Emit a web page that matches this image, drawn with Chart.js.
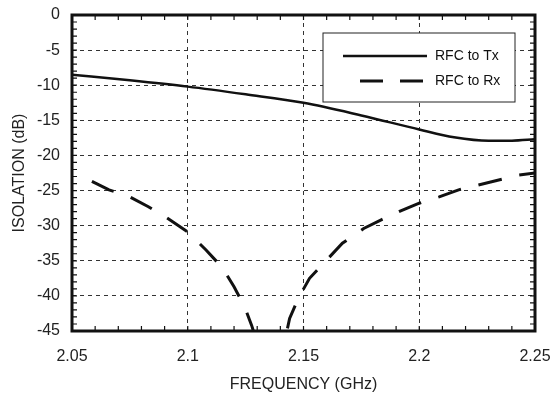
<!DOCTYPE html>
<html>
<head>
<meta charset="utf-8">
<script src="https://cdn.jsdelivr.net/npm/chart.js@4/dist/chart.umd.min.js"></script>
<style>
  html, body { margin: 0; padding: 0; background: #fff; }
  #wrap { width: 551px; height: 395px; }
</style>
</head>
<body>
<div id="wrap"><canvas id="isoChart"></canvas></div>
<script>
// ---- data ----
var txFreq = [2.05, 2.075, 2.1, 2.125, 2.15, 2.175, 2.2, 2.215, 2.23, 2.24, 2.25];
var txIso  = [-8.5, -9.3, -10.2, -11.3, -12.5, -14.3, -16.3, -17.4, -17.9, -17.9, -17.7];

var rxFreq = [2.0586, 2.066, 2.075, 2.083, 2.091, 2.1, 2.108, 2.115, 2.12, 2.1246, 2.1276, 2.135,
              2.1427, 2.144, 2.148, 2.1526, 2.16, 2.1668, 2.176, 2.184, 2.192, 2.2, 2.2086, 2.217, 2.243, 2.25];
var rxIso  = [-23.7, -24.9, -25.9, -27.3, -28.9, -30.9, -33.5, -36.0, -38.7, -41.6, -44.2, -52,
              -45.2, -43.2, -40.2, -37.5, -34.9, -32.5, -30.4, -29.1, -27.9, -26.8, -25.9, -24.9, -22.8, -22.5];

var xTicks = [2.05, 2.1, 2.15, 2.2, 2.25];
var yTicks = [0, -5, -10, -15, -20, -25, -30, -35, -40, -45];
var seriesNames = ['RFC to Tx', 'RFC to Rx'];

function pairs(xs, ys) {
    var out = [];
    for (var i = 0; i < xs.length; i++) out.push({x: xs[i], y: ys[i]});
    return out;
}

// frame, inward minor ticks and the boxed legend
var framePlugin = {
    id: 'frame',
    afterDraw: function (chart) {
        var ctx = chart.ctx, a = chart.chartArea, x = chart.scales.x, y = chart.scales.y;
        ctx.save();
        ctx.strokeStyle = '#111';
        ctx.lineWidth = 1.2;
        ctx.beginPath();
        for (var i = 0; i <= 20; i++) {
            var px = x.getPixelForValue(2.05 + i * 0.01);
            ctx.moveTo(px, a.bottom); ctx.lineTo(px, a.bottom - 5);
            ctx.moveTo(px, a.top); ctx.lineTo(px, a.top + 5);
        }
        for (var j = 0; j <= 45; j++) {
            var py = y.getPixelForValue(-j);
            ctx.moveTo(a.left, py); ctx.lineTo(a.left + 5, py);
            ctx.moveTo(a.right, py); ctx.lineTo(a.right - 5, py);
        }
        ctx.stroke();

        ctx.lineWidth = 3;
        ctx.strokeRect(a.left, a.top, a.right - a.left, a.bottom - a.top);

        // legend box
        var bx = a.right - 212, by = a.top + 18, bw = 192, bh = 69;
        ctx.fillStyle = '#fff';
        ctx.fillRect(bx, by, bw, bh);
        ctx.lineWidth = 1;
        ctx.strokeStyle = '#222';
        ctx.strokeRect(bx, by, bw, bh);

        ctx.strokeStyle = '#111';
        ctx.lineWidth = 2.5;
        ctx.beginPath();
        ctx.moveTo(bx + 20, by + 23); ctx.lineTo(bx + 104, by + 23);
        ctx.stroke();

        ctx.lineWidth = 3;
        ctx.setLineDash([23, 17]);
        ctx.beginPath();
        ctx.moveTo(bx + 37, by + 48); ctx.lineTo(bx + 104, by + 48);
        ctx.stroke();
        ctx.setLineDash([]);

        ctx.fillStyle = '#111';
        ctx.font = '14px "Liberation Sans", Arial, sans-serif';
        ctx.textBaseline = 'middle';
        ctx.fillText(chart.data.datasets[0].label, bx + 112, by + 23);
        ctx.fillText(chart.data.datasets[1].label, bx + 112, by + 48);
        ctx.restore();
    }
};

var fontSpec = { family: '"Liberation Sans", Arial, sans-serif', size: 16 };

new Chart(document.getElementById('isoChart'), {
    type: 'line',
    data: {
        datasets: [
            {
                label: seriesNames[0],
                data: pairs(txFreq, txIso),
                borderColor: '#111',
                borderWidth: 2.5,
                pointRadius: 0,
                cubicInterpolationMode: 'monotone',
                fill: false
            },
            {
                label: seriesNames[1],
                data: pairs(rxFreq, rxIso),
                borderColor: '#111',
                borderWidth: 3,
                borderDash: [24, 18],
                pointRadius: 0,
                tension: 0,
                fill: false
            }
        ]
    },
    options: {
        responsive: true,
        maintainAspectRatio: false,
        animation: false,
        layout: { padding: { left: 3, right: 16, top: 15, bottom: 0 } },
        plugins: {
            legend: { display: false },
            tooltip: { enabled: false }
        },
        scales: {
            x: {
                type: 'linear',
                min: 2.05,
                max: 2.25,
                afterBuildTicks: function (axis) {
                    axis.ticks = xTicks.map(function (v) { return {value: v}; });
                },
                afterFit: function (axis) {
                    axis.height = 64;
                    axis.paddingLeft = 0;
                    axis.paddingRight = 0;
                },
                ticks: {
                    color: '#222',
                    font: fontSpec,
                    padding: 16,
                    maxRotation: 0,
                    callback: function (v) { return String(Number(v.toFixed(2))); }
                },
                grid: { color: '#333', lineWidth: 1, drawTicks: false },
                border: { display: false, dash: [4, 4] },
                title: { display: true, text: 'FREQUENCY (GHz)', color: '#222', font: fontSpec, padding: { top: 0, bottom: 1 } }
            },
            y: {
                min: -45,
                max: 0,
                afterBuildTicks: function (axis) {
                    axis.ticks = yTicks.map(function (v) { return {value: v}; });
                },
                afterFit: function (axis) {
                    axis.width = 69;
                    axis.paddingTop = 0;
                    axis.paddingBottom = 0;
                },
                ticks: {
                    color: '#222',
                    font: fontSpec,
                    padding: 12
                },
                grid: { color: '#333', lineWidth: 1, drawTicks: false },
                border: { display: false, dash: [4, 4] },
                title: { display: true, text: 'ISOLATION (dB)', color: '#222', font: fontSpec, padding: { top: 7, bottom: 0 } }
            }
        }
    },
    plugins: [framePlugin]
});
</script>
</body>
</html>
